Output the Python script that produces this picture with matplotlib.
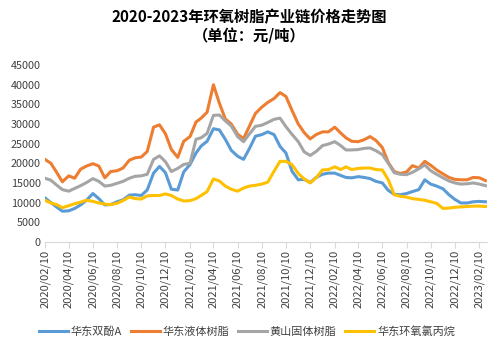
import numpy as np
import pandas as pd
import matplotlib
matplotlib.use('Agg')
import matplotlib.pyplot as plt

plt.rcParams['font.family'] = ['Noto Sans CJK SC', 'DejaVu Sans']

# half-monthly points (10th and 25th), 2020/02/10 .. 2023/02/25
dates = pd.to_datetime(['%d-%02d-%02d' % (2020 + (m - 1) // 12, (m - 1) % 12 + 1, d)
                        for m in range(2, 38) for d in (10, 25)]
                       + ['2023-02-10', '2023-02-25'])

bpa = [11200, 10000, 8900, 7800, 7900, 8500, 9400, 10600, 12300, 11000,
       9400, 9500, 10200, 10700, 11900, 12000, 11800, 13200, 17500, 19200,
       17600, 13400, 13200, 17800, 19700, 22600, 24400, 25600, 28800, 28500,
       26100, 23300, 21800, 21000, 23800, 26900, 27300, 28000, 27300, 24300,
       22600, 18000, 15800, 15900, 15100, 16400, 17200, 17500, 17500, 16900,
       16400, 16300, 16600, 16400, 16100, 15400, 15000, 13100, 12100, 12000,
       12300, 12800, 13300, 15800, 14700, 14200, 13500, 12000, 10800, 9900,
       9900, 10200, 10300, 10200]

liquid = [21000, 20000, 17800, 15300, 16800, 16200, 18500, 19300, 19900, 19300,
          16300, 17900, 18100, 18800, 20800, 21400, 21600, 23000, 29200, 29800,
          27500, 23500, 21500, 25600, 26800, 30500, 31500, 33000, 40000, 35300,
          31300, 30000, 27400, 26300, 29500, 32700, 34300, 35500, 36500, 38000,
          37000, 33500, 30000, 27800, 26200, 27300, 28000, 28000, 29200, 27700,
          26500, 25600, 25500, 26000, 26800, 25800, 24000, 20200, 17900, 17400,
          17800, 19400, 18800, 20500, 19500, 18300, 17300, 16400, 15900, 15800,
          15800, 16400, 16300, 15600]

solid = [16200, 15700, 14500, 13300, 12900, 13600, 14300, 15100, 16100, 15400,
         14200, 14400, 14900, 15400, 16200, 16700, 16800, 17200, 21000, 21900,
         20400, 17900, 18700, 19700, 20000, 26100, 26500, 27600, 32200, 32300,
         30800, 29500, 26800, 25500, 27500, 29400, 29700, 30400, 31200, 31500,
         29300, 27400, 25500, 22900, 22000, 23000, 24500, 24900, 25500, 24500,
         23400, 23400, 23500, 23800, 23900, 23200, 22200, 20000, 17600, 17200,
         17100, 17700, 18600, 19600, 18100, 17200, 16300, 15500, 15000, 14700,
         14800, 15000, 14700, 14300]

ech = [10600, 9900, 9500, 8700, 9200, 9700, 10100, 10600, 10300, 9900,
       9600, 9500, 9800, 10500, 11400, 11000, 10900, 11700, 11800, 11800,
       12200, 11800, 10900, 10400, 10500, 11000, 11800, 12800, 16000, 15500,
       14200, 13400, 12900, 13700, 14200, 14400, 14700, 15200, 18000, 20500,
       20500, 19700, 17400, 16000, 15000, 16300, 18300, 18400, 19100, 18400,
       19100, 18400, 18700, 18800, 18800, 18400, 18300, 15800, 12000, 11600,
       11400, 11000, 10800, 10600, 10200, 9800, 8500, 8600, 8800, 8900,
       9000, 9100, 9100, 9000]

names = ['华东双酚A', '华东液体树脂', '黄山固体树脂', '华东环氧氯丙烷']
colors = ['#5B9BD5', '#ED7D31', '#A5A5A5', '#FFC000']
yticks = list(range(0, 45001, 5000))
xtick_labels = ['%d/%02d/10' % (2020 + (m - 1) // 12, (m - 1) % 12 + 1)
                for m in range(2, 39, 2)]


def plot_chart(path):
    fig = plt.figure(figsize=(4.99, 3.5), dpi=100)
    ax = fig.add_axes([0.090, 0.309, 0.886, 0.505])
    for vals, name, c in zip([bpa, liquid, solid, ech], names, colors):
        ax.plot(dates, vals, '-', color=c, lw=2.2, label=name, solid_joinstyle='round')
    ax.set_xlim(pd.Timestamp('2020-02-10'), pd.Timestamp('2023-03-01'))
    ax.set_ylim(0, 45000)
    ax.set_yticks(yticks)
    ax.set_yticklabels([str(v) for v in yticks])
    ticks = pd.to_datetime([s.replace('/', '-') for s in xtick_labels])
    ax.set_xticks(ticks)
    ax.set_xticklabels(xtick_labels, rotation=90)
    for s in ['top', 'right', 'left']:
        ax.spines[s].set_visible(False)
    ax.spines['bottom'].set_color('#D9D9D9')
    ax.tick_params(axis='y', length=0, labelsize=7.8, colors='#404040', pad=3)
    ax.tick_params(axis='x', length=4, color='#D9D9D9', labelsize=8,
                   labelcolor='#404040', pad=2)
    fig.text(0.5, 0.952, '2020-2023年环氧树脂产业链价格走势图', ha='center', va='center',
             fontsize=11, fontweight='bold', color='black')
    fig.text(0.5, 0.895, '（单位：元/吨）', ha='center', va='center',
             fontsize=11, fontweight='bold', color='black')
    fig.legend(loc='center', bbox_to_anchor=(0.495, 0.052), ncol=4, frameon=False,
               fontsize=8, handlelength=2.6, handletextpad=0.25, columnspacing=0.8,
               labelcolor='#404040')
    fig.savefig(path, dpi=100)


if __name__ == '__main__':
    plot_chart('out.png')
